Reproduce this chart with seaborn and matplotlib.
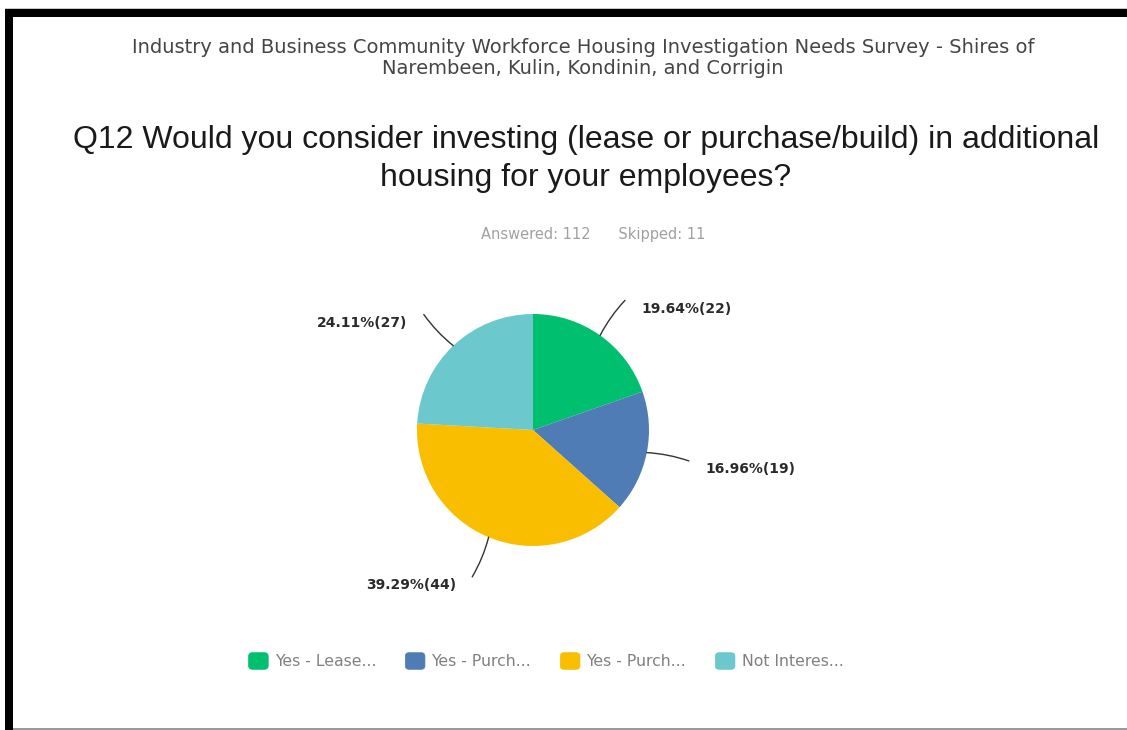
import matplotlib
matplotlib.use("Agg")
import numpy as np
import matplotlib.pyplot as plt
from matplotlib.patches import Patch, Rectangle, FancyBboxPatch
from matplotlib.legend_handler import HandlerPatch
import seaborn as sns

# Survey response data
categories = ["Yes - Lease...", "Yes - Purch...", "Yes - Purch...", "Not Interes..."]
counts = [22, 19, 44, 27]
percents = [19.64, 16.96, 39.29, 24.11]
colors_hex = ["#00BF6F", "#507CB6", "#F9BE00", "#6BC8CD"]
answered = 112
skipped = 11

survey_title = ("Industry and Business Community Workforce Housing Investigation Needs Survey - Shires of\n"
                "Narembeen, Kulin, Kondinin, and Corrigin")
question = ("Q12 Would you consider investing (lease or purchase/build) in additional\n"
            "housing for your employees?")

sns.set_theme(style="white")
plt.rcParams["font.family"] = ["DejaVu Sans"]
palette = sns.color_palette(colors_hex)

W, H = 1127, 730
fig = plt.figure(figsize=(W / 100, H / 100), dpi=100)
fig.patch.set_facecolor("white")


def fx(px):
    return px / W


def fy(py):
    return 1 - py / H


# page frame
fig.add_artist(Rectangle((fx(5), fy(9)), 1, 1.2 / H, color="#c8c8c8",
                         transform=fig.transFigure, lw=0))
fig.add_artist(Rectangle((fx(5), fy(17)), 1, 8 / H, color="black",
                         transform=fig.transFigure, lw=0))
fig.add_artist(Rectangle((fx(5), 0), 8 / W, fy(9), color="black",
                         transform=fig.transFigure, lw=0))
fig.add_artist(Rectangle((fx(13), 0), 1, 2 / H, color="#9a9a9a",
                         transform=fig.transFigure, lw=0))

# headings
fig.text(fx(583), fy(58), survey_title, ha="center", va="center",
         fontsize=14.0, color="#454545", linespacing=1.18, family="DejaVu Sans")
fig.text(fx(586), fy(159), question, ha="center", va="center",
         fontsize=23, color="#1a1a1a", linespacing=1.36, family="Liberation Sans")
fig.text(fx(593), fy(234), f"Answered: {answered}      Skipped: {skipped}",
         ha="center", va="center", fontsize=10.5, color="#a0a0a0", family="DejaVu Sans")

# pie, 116 px per data unit
cx, cy, half = 533, 430, 232
ax = fig.add_axes([fx(cx - half), fy(cy + half), 2 * half / W, 2 * half / H])
wedges, _ = ax.pie(percents, colors=palette, startangle=90, counterclock=False,
                   radius=1, wedgeprops=dict(linewidth=0))
ax.set_xlim(-2, 2)
ax.set_ylim(-2, 2)
ax.axis("off")

for w, p, c in zip(wedges, percents, counts):
    mid = np.deg2rad((w.theta1 + w.theta2) / 2)
    ux, uy = np.cos(mid), np.sin(mid)
    start = (1.0 * ux, 1.0 * uy)
    end = (1.37 * ux, 1.37 * uy)
    right = ux >= 0
    ax.annotate("", xy=start, xytext=end,
                arrowprops=dict(arrowstyle="-", color="#333333", lw=1.0,
                                connectionstyle="arc3,rad=0.07",
                                shrinkA=0, shrinkB=0))
    tx = end[0] + (0.14 if right else -0.14)
    ax.text(tx, end[1] - 0.07, f"{p:.2f}%({c})", ha="left" if right else "right",
            va="center", fontsize=10, fontweight="bold", color="#2a2a2a")


# rounded swatches for the legend
def rounded_swatch(legend, orig_handle, xdescent, ydescent, width, height, fontsize):
    return FancyBboxPatch((-xdescent, -ydescent), width, height,
                          boxstyle=f"round,pad=0,rounding_size={0.22 * height}")


handles = [Patch(facecolor=col, edgecolor=col, linewidth=0.5, label=lab)
           for col, lab in zip(palette, categories)]
fig.legend(handles=handles, loc="center", bbox_to_anchor=(fx(546), fy(661)), ncol=4,
           frameon=False, handlelength=1.25, handleheight=1.25, handletextpad=0.42,
           columnspacing=1.85, fontsize=11.3, labelcolor="#808080",
           handler_map={Patch: HandlerPatch(patch_func=rounded_swatch)})

fig.savefig("out.png", dpi=100, facecolor="white")
